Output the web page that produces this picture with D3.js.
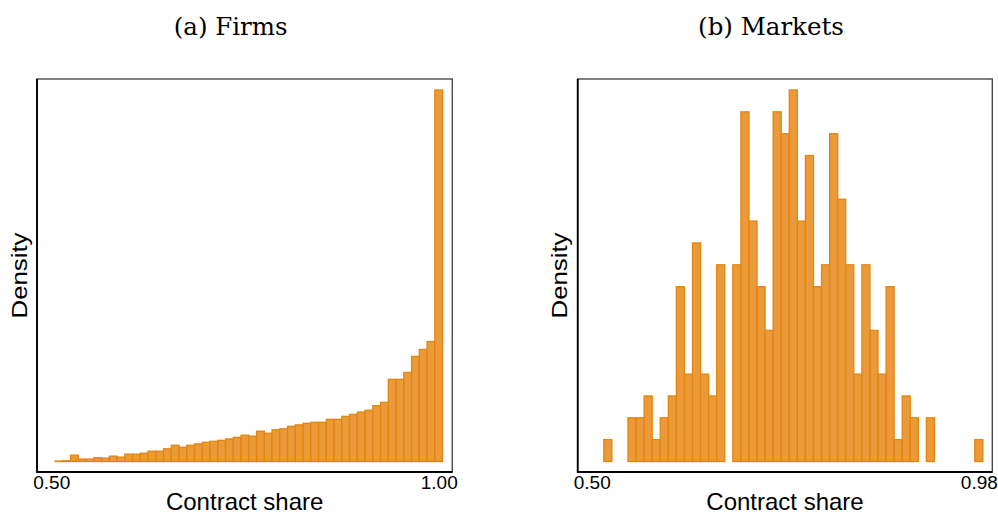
<!DOCTYPE html>
<html>
<head>
<meta charset="utf-8">
<script src="https://cdn.jsdelivr.net/npm/d3@7"></script>
<style>
  html, body { margin: 0; padding: 0; background: #fff; }
  svg { display: block; }
</style>
</head>
<body>
<svg id="chart" width="998" height="515"></svg>
<script>
// Panel (a): firm-level contract share, bin centres 0.51 ... 1.00 (width 0.01), density
const firmBinCenters = d3.range(51, 101).map(d => d / 100);
const firmDensity = [
  0.02, 0.04, 0.32, 0.12, 0.12, 0.19, 0.17, 0.27, 0.22, 0.37,
  0.37, 0.42, 0.52, 0.52, 0.64, 0.82, 0.72, 0.82, 0.89, 0.97,
  1.02, 1.07, 1.14, 1.22, 1.33, 1.28, 1.53, 1.43, 1.60, 1.65,
  1.78, 1.85, 1.93, 1.98, 1.98, 2.13, 2.13, 2.28, 2.38, 2.50,
  2.59, 2.82, 2.99, 4.15, 4.15, 4.50, 5.31, 5.66, 6.06, 18.77
];

// Panel (b): market-level contract share, bin centres 0.52 ... 0.98, counts of markets
const marketBinCenters = d3.range(52, 99).map(d => d / 100);
const marketCounts = [
  1, 0, 0, 2, 2, 3, 1, 2, 3, 8,
  4, 10, 4, 3, 9, 0, 9, 16, 11, 8,
  6, 16, 15, 17, 11, 14, 8, 9, 15, 12,
  9, 4, 9, 6, 4, 8, 1, 3, 2, 0,
  2, 0, 0, 0, 0, 0, 1
];

const binWidth = 0.01;
const firmTicks = [0.50, 1.00];
const marketTicks = [0.50, 0.98];
const titles = ["(a) Firms", "(b) Markets"];
const xTitle = "Contract share";
const yTitle = "Density";

const marketTotal = d3.sum(marketCounts);
const marketDensity = marketCounts.map(c => c / (marketTotal * binWidth));

const FILL = "#EB9A3B";
const STROKE = "#E4850C";

const svg = d3.select("#chart");

const panels = [
  {
    title: titles[0], centers: firmBinCenters, values: firmDensity, ticks: firmTicks,
    frame: { left: 37, right: 452.3, top: 79, bottom: 472 },
    xDomain: [0.50, 1.00], xRange: [51.2, 438.7], titleX: 230.7
  },
  {
    title: titles[1], centers: marketBinCenters, values: marketDensity, ticks: marketTicks,
    frame: { left: 577.7, right: 992.3, top: 79, bottom: 472 },
    xDomain: [0.50, 0.98], xRange: [591.7, 978.8], titleX: 771
  }
];

panels.forEach(p => {
  const f = p.frame;
  const x = d3.scaleLinear().domain(p.xDomain).range(p.xRange);
  const y = d3.scaleLinear().domain([0, d3.max(p.values)]).range([461.5, 90]);

  const g = svg.append("g");

  // bars
  g.selectAll("rect.bar")
    .data(p.centers.map((c, i) => ({ c, v: p.values[i] })).filter(d => d.v > 0))
    .join("rect")
    .attr("class", "bar")
    .attr("x", d => x(d.c - binWidth / 2))
    .attr("width", d => x(d.c + binWidth / 2) - x(d.c - binWidth / 2))
    .attr("y", d => y(d.v))
    .attr("height", d => y(0) - y(d.v))
    .attr("fill", FILL)
    .attr("stroke", STROKE)
    .attr("stroke-width", 1.3);

  // plot frame: grey top/right, black left/bottom axis lines
  g.append("rect")
    .attr("x", f.left).attr("y", f.top)
    .attr("width", f.right - f.left).attr("height", f.bottom - f.top)
    .attr("fill", "none").attr("stroke", "#4a4a4a").attr("stroke-width", 1.4);
  g.append("path")
    .attr("d", `M${f.left},${f.top}V${f.bottom}H${f.right}`)
    .attr("fill", "none").attr("stroke", "#000").attr("stroke-width", 1.8);

  // x tick labels
  const axis = d3.axisBottom(x)
    .tickValues(p.ticks)
    .tickSize(0)
    .tickPadding(3.5)
    .tickFormat(d3.format(".2f"));
  const ax = g.append("g").attr("transform", `translate(0,${f.bottom})`).call(axis);
  ax.select(".domain").remove();
  ax.selectAll("text")
    .attr("font-family", "'Liberation Sans', Arial, sans-serif")
    .attr("font-size", 19)
    .attr("fill", "#000");

  // axis titles
  g.append("text")
    .attr("x", (f.left + f.right) / 2)
    .attr("y", 510)
    .attr("text-anchor", "middle")
    .attr("font-family", "'Liberation Sans', Arial, sans-serif")
    .attr("font-size", 24)
    .text(xTitle);

  g.append("text")
    .attr("transform", `translate(${f.left - 10.3},${(f.top + f.bottom) / 2}) rotate(-90)`)
    .attr("text-anchor", "middle")
    .attr("font-family", "'Liberation Sans', Arial, sans-serif")
    .attr("font-size", 22)
    .attr("textLength", 86)
    .attr("lengthAdjust", "spacingAndGlyphs")
    .text(yTitle);

  // panel title
  g.append("text")
    .attr("x", p.titleX)
    .attr("y", 35)
    .attr("text-anchor", "middle")
    .attr("font-family", "'DejaVu Serif', serif")
    .attr("font-size", 24.5)
    .text(p.title);
});
</script>
</body>
</html>
